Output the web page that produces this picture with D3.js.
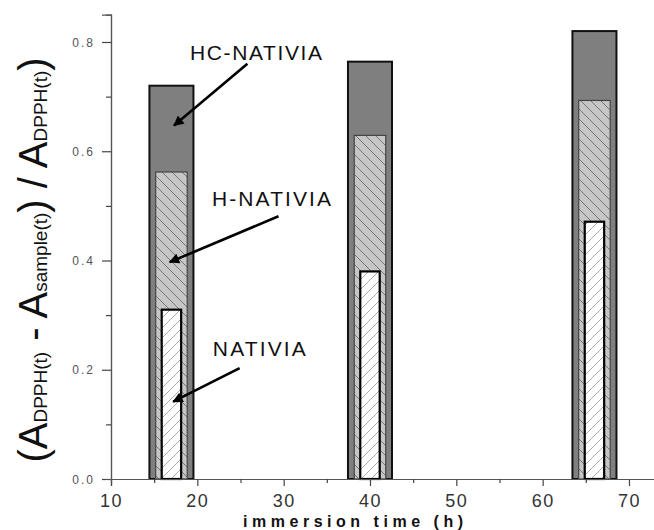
<!DOCTYPE html>
<html>
<head>
<meta charset="utf-8">
<script src="https://cdn.jsdelivr.net/npm/d3@7"></script>
<style>
body { margin: 0; background: #fff; }
text { font-family: "Liberation Sans", Arial, sans-serif; }
</style>
</head>
<body>
<div id="chart"></div>
<script>
// data
var times = [17, 40, 66];
var hcNativia = [0.72, 0.764, 0.82];
var hNativia = [0.562, 0.629, 0.693];
var nativia = [0.31, 0.38, 0.471];
var xTicks = [10, 20, 30, 40, 50, 60, 70];
var yTicks = [0.0, 0.2, 0.4, 0.6, 0.8];

// annotations: label + arrow, in data units
var notes = [
	{ text: "HC-NATIVIA", tx: 19.15, ty: 0.767, x1: 25.8, y1: 0.76, x2: 17.3, y2: 0.647, len: 132 },
	{ text: "H-NATIVIA", tx: 21.7, ty: 0.50, x1: 29.4, y1: 0.481, x2: 16.8, y2: 0.397, len: 119 },
	{ text: "NATIVIA", tx: 21.8, ty: 0.225, x1: 24.9, y1: 0.203, x2: 17.2, y2: 0.1415, len: 93 }
];

var W = 654, H = 530;
var x = d3.scaleLinear().domain([10, 73]).range([111, 111 + 63 * 8.633]);
var y = d3.scaleLinear().domain([0, 0.85]).range([479, 479 - 0.85 * 546.25]);

var svg = d3.select("#chart").append("svg")
	.attr("width", W)
	.attr("height", H);

var defs = svg.append("defs");

// hatch for H-NATIVIA  ( \ lines )
var p1 = defs.append("pattern")
	.attr("id", "hatchBack")
	.attr("patternUnits", "userSpaceOnUse")
	.attr("width", 10).attr("height", 10);
p1.append("rect").attr("width", 10).attr("height", 10).attr("fill", "#c6c6c6");
p1.append("path")
	.attr("d", "M-1,-1 L11,11 M-6,4 L1,11 M4,-6 L11,1")
	.attr("stroke", "#6e6e6e").attr("stroke-width", 0.9);

// hatch for NATIVIA ( / lines )
var p2 = defs.append("pattern")
	.attr("id", "hatchFwd")
	.attr("patternUnits", "userSpaceOnUse")
	.attr("width", 10).attr("height", 10);
p2.append("rect").attr("width", 10).attr("height", 10).attr("fill", "#fff");
p2.append("path")
	.attr("d", "M-1,11 L11,-1 M-6,6 L1,-1 M4,16 L11,9")
	.attr("stroke", "#a0a0a0").attr("stroke-width", 0.9);

defs.append("marker")
	.attr("id", "arrow")
	.attr("viewBox", "0 0 10 10")
	.attr("refX", 9).attr("refY", 5)
	.attr("markerWidth", 5.2).attr("markerHeight", 4)
	.attr("markerUnits", "strokeWidth")
	.attr("orient", "auto")
	.append("path")
	.attr("d", "M0,0 L10,5 L0,10 z")
	.attr("fill", "#000");

// bars
var outerW = 5.1, midW = 3.65, innerW = 2.25;

svg.selectAll("rect.hc").data(times).enter().append("rect")
	.attr("class", "hc")
	.attr("x", function(d) { return x(d - outerW / 2); })
	.attr("width", function(d) { return x(d + outerW / 2) - x(d - outerW / 2); })
	.attr("y", function(d, i) { return y(hcNativia[i]); })
	.attr("height", function(d, i) { return y(0) - y(hcNativia[i]); })
	.attr("fill", "#7f7f7f")
	.attr("stroke", "#111")
	.attr("stroke-width", 2);

svg.selectAll("rect.h").data(times).enter().append("rect")
	.attr("class", "h")
	.attr("x", function(d) { return x(d - midW / 2); })
	.attr("width", function(d) { return x(d + midW / 2) - x(d - midW / 2); })
	.attr("y", function(d, i) { return y(hNativia[i]); })
	.attr("height", function(d, i) { return y(0) - y(hNativia[i]); })
	.attr("fill", "url(#hatchBack)")
	.attr("stroke", "#444")
	.attr("stroke-width", 1.2);

svg.selectAll("rect.n").data(times).enter().append("rect")
	.attr("class", "n")
	.attr("x", function(d) { return x(d - innerW / 2); })
	.attr("width", function(d) { return x(d + innerW / 2) - x(d - innerW / 2); })
	.attr("y", function(d, i) { return y(nativia[i]); })
	.attr("height", function(d, i) { return y(0) - y(nativia[i]); })
	.attr("fill", "url(#hatchFwd)")
	.attr("stroke", "#000")
	.attr("stroke-width", 2.2);

// axes
var xAxis = d3.axisBottom(x).tickValues(xTicks).tickSize(7).tickFormat(d3.format("d"));
var xMinor = d3.axisBottom(x).tickValues([15, 25, 35, 45, 55, 65]).tickSize(4).tickFormat("");
var yAxis = d3.axisLeft(y).tickValues(yTicks).tickSize(9).tickFormat(d3.format(".1f"));
var yMinor = d3.axisLeft(y).tickValues([0.1, 0.3, 0.5, 0.7]).tickSize(5).tickFormat("");

var gx = svg.append("g").attr("transform", "translate(0," + y(0) + ")").call(xAxis);
svg.append("g").attr("transform", "translate(0," + y(0) + ")").call(xMinor);
var gy = svg.append("g").attr("transform", "translate(" + x(10) + ",0)").call(yAxis);
svg.append("g").attr("transform", "translate(" + x(10) + ",0)").call(yMinor);

svg.selectAll(".domain").attr("stroke", "#555").attr("stroke-width", 1.2);
svg.selectAll(".tick line").attr("stroke", "#444").attr("stroke-width", 1.2);

gx.selectAll(".tick text")
	.attr("dy", null).attr("y", 28)
	.attr("font-size", 18)
	.attr("letter-spacing", 1.5)
	.attr("fill", "#333")
	.style("font-family", "Liberation Sans, Arial, sans-serif");

gy.selectAll(".tick text")
	.attr("x", -16).attr("dy", "0.35em")
	.attr("font-size", 12)
	.attr("letter-spacing", 2)
	.attr("fill", "#555")
	.style("font-family", "Liberation Sans, Arial, sans-serif");

// axis titles
svg.append("text")
	.attr("x", 243).attr("y", 526.5)
	.attr("font-size", 16)
	.attr("font-weight", "bold")
	.attr("textLength", 220)
	.attr("lengthAdjust", "spacing")
	.attr("fill", "#111")
	.text("immersion time (h)");

var yl = svg.append("text")
	.attr("transform", "translate(47,260) rotate(-90)")
	.attr("text-anchor", "middle")
	.attr("font-size", 40)
	.attr("fill", "#111");
yl.append("tspan").text("(A");
yl.append("tspan").attr("font-size", 19).text("DPPH(t)");
yl.append("tspan").text(" - A");
yl.append("tspan").attr("font-size", 19).text("sample(t)");
yl.append("tspan").text(") / A");
yl.append("tspan").attr("font-size", 19).text("DPPH(t)");
yl.append("tspan").text(")");

// annotations
svg.selectAll("text.note").data(notes).enter().append("text")
	.attr("class", "note")
	.attr("x", function(d) { return x(d.tx); })
	.attr("y", function(d) { return y(d.ty); })
	.attr("font-size", 21)
	.attr("textLength", function(d) { return d.len; })
	.attr("lengthAdjust", "spacing")
	.attr("fill", "#111")
	.text(function(d) { return d.text; });

svg.selectAll("line.arrow").data(notes).enter().append("line")
	.attr("class", "arrow")
	.attr("x1", function(d) { return x(d.x1); })
	.attr("y1", function(d) { return y(d.y1); })
	.attr("x2", function(d) { return x(d.x2); })
	.attr("y2", function(d) { return y(d.y2); })
	.attr("stroke", "#000")
	.attr("stroke-width", 2.6)
	.attr("marker-end", "url(#arrow)");
</script>
</body>
</html>
